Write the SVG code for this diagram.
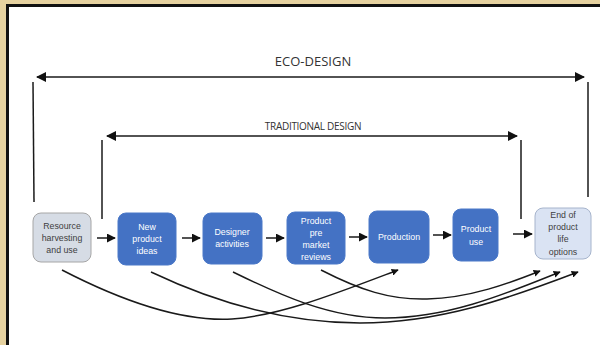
<svg xmlns="http://www.w3.org/2000/svg" width="600" height="345" viewBox="0 0 600 345">
  <style>
    .lbl { font-family: "Liberation Sans", Arial, sans-serif; font-size: 8.8px; text-anchor: middle; }
    .w { fill: #ffffff; }
    .d { fill: #404040; }
    .blue { fill: #4472c4; stroke: #4a78c8; stroke-width: 1; }
    .pale { fill: #d6dce5; stroke: #a6a6a6; stroke-width: 1; }
    .pale2 { fill: #dae3f3; stroke: #a6b4cc; stroke-width: 1; }
    .ln { fill: none; stroke: #1a1a1a; stroke-width: 1.5; }
    .cv { fill: none; stroke: #1a1a1a; stroke-width: 1.5; }
    .title { font-family: "Open Sans", "Liberation Sans", sans-serif; fill: #333; text-anchor: middle; }
  </style>
  <defs>
    <marker id="ah" viewBox="0 0 10 10" refX="9" refY="5" markerWidth="7" markerHeight="7" markerUnits="userSpaceOnUse" orient="auto">
      <path d="M0,0 L10,5 L0,10 z" fill="#111"/>
    </marker>
    <marker id="ah2" viewBox="0 0 10 10" refX="9" refY="5" markerWidth="11" markerHeight="10" markerUnits="userSpaceOnUse" orient="auto-start-reverse">
      <path d="M0,0 L10,5 L0,10 z" fill="#111"/>
    </marker>
    <marker id="ah3" viewBox="0 0 10 10" refX="9" refY="5" markerWidth="9" markerHeight="9" markerUnits="userSpaceOnUse" orient="auto">
      <path d="M0,0 L10,5 L0,10 z" fill="#111"/>
    </marker>
  </defs>

  <!-- parchment mount and frame -->
  <rect x="0" y="0" width="600" height="345" fill="#e6d2a0"/>
  <rect x="6" y="4" width="594" height="341" fill="#111"/>
  <rect x="9" y="7" width="591" height="338" fill="#ffffff"/>

  <!-- scope brackets -->
  <g id="eco-design">
    <text class="title" x="313" y="66" font-size="13">ECO-DESIGN</text>
    <line class="ln" x1="37" y1="77" x2="584" y2="77" stroke-width="2" marker-start="url(#ah2)" marker-end="url(#ah2)"/>
    <line class="ln" x1="33" y1="82" x2="34" y2="202" stroke-width="1.3"/>
    <line class="ln" x1="588" y1="82" x2="588" y2="197" stroke-width="1.3"/>
  </g>
  <g id="traditional-design">
    <text class="title" x="313" y="130" font-size="10" letter-spacing="-0.3">TRADITIONAL DESIGN</text>
    <line class="ln" x1="107" y1="136" x2="517" y2="136" marker-start="url(#ah2)" marker-end="url(#ah2)"/>
    <line class="ln" x1="102" y1="140" x2="102" y2="219" stroke-width="1.3"/>
    <line class="ln" x1="521" y1="140" x2="521" y2="219" stroke-width="1.3"/>
  </g>

  <!-- nodes -->
  <g id="resource">
    <rect class="pale" x="33" y="213" width="58" height="49" rx="8"/>
    <text class="lbl d"><tspan x="62" y="229">Resource</tspan><tspan x="62" y="241">harvesting</tspan><tspan x="62" y="253">and use</tspan></text>
  </g>
  <g id="new-product-ideas">
    <rect class="blue" x="118" y="213" width="58" height="52" rx="8"/>
    <text class="lbl w"><tspan x="147" y="230">New</tspan><tspan x="147" y="242">product</tspan><tspan x="147" y="254">ideas</tspan></text>
  </g>
  <g id="designer-activities">
    <rect class="blue" x="203" y="213" width="59" height="51" rx="8"/>
    <text class="lbl w"><tspan x="232" y="235">Designer</tspan><tspan x="232" y="247">activities</tspan></text>
  </g>
  <g id="pre-market-reviews">
    <rect class="blue" x="287" y="212" width="58" height="52" rx="8"/>
    <text class="lbl w"><tspan x="316" y="224">Product</tspan><tspan x="316" y="236">pre</tspan><tspan x="316" y="248">market</tspan><tspan x="316" y="260">reviews</tspan></text>
  </g>
  <g id="production">
    <rect class="blue" x="369" y="211" width="60" height="52" rx="8"/>
    <text class="lbl w"><tspan x="399" y="240">Production</tspan></text>
  </g>
  <g id="product-use">
    <rect class="blue" x="453" y="209" width="45" height="52" rx="8"/>
    <text class="lbl w"><tspan x="476" y="232">Product</tspan><tspan x="476" y="245">use</tspan></text>
  </g>
  <g id="end-of-life">
    <rect class="pale2" x="535" y="208" width="56" height="51" rx="8"/>
    <text class="lbl d"><tspan x="563" y="218">End of</tspan><tspan x="563" y="230">product</tspan><tspan x="563" y="242">life</tspan><tspan x="563" y="255">options</tspan></text>
  </g>

  <!-- connectors -->
  <g id="connectors">
    <line class="ln" x1="97" y1="238" x2="115" y2="238" stroke-width="2.2" marker-end="url(#ah3)"/>
    <line class="ln" x1="182" y1="238" x2="200" y2="238" stroke-width="2.2" marker-end="url(#ah3)"/>
    <line class="ln" x1="266" y1="238" x2="284" y2="238" stroke-width="2.2" marker-end="url(#ah3)"/>
    <line class="ln" x1="349" y1="237" x2="367" y2="237" stroke-width="2.2" marker-end="url(#ah3)"/>
    <line class="ln" x1="433" y1="235" x2="451" y2="235" stroke-width="2.2" marker-end="url(#ah3)"/>
    <line class="ln" x1="513" y1="234" x2="532" y2="234" stroke-width="2.2" marker-end="url(#ah3)"/>

    <path class="cv" d="M62,270 C120,300 180,322 232,319 C280,316 340,292 398,270" marker-end="url(#ah)"/>
    <path class="cv" d="M151,272 C210,300 280,323 360,323 C440,323 510,298 578,272" marker-end="url(#ah)"/>
    <path class="cv" d="M233,272 C280,295 330,318 385,318 C450,318 510,292 560,272" marker-end="url(#ah)"/>
    <path class="cv" d="M321,270 C360,290 390,300 427,299 C470,298 510,283 540,271" marker-end="url(#ah)"/>
  </g>
</svg>
